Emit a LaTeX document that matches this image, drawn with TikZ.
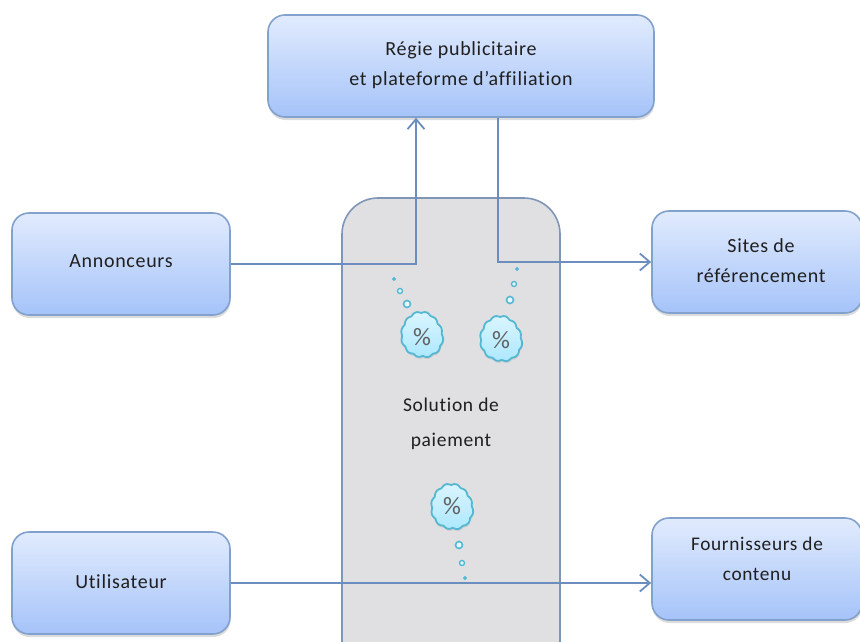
\documentclass[tikz,border=0pt]{standalone}
\usepackage{fontspec}
\setmainfont{Carlito}[Ligatures={NoCommon},LetterSpace=3.5]
\usetikzlibrary{shadows,arrows.meta,calc}
\definecolor{boxline}{HTML}{82A1CC}
\definecolor{boxtop}{HTML}{E1EBFD}
\definecolor{boxbot}{HTML}{A5C3F9}
\definecolor{panelfill}{HTML}{E0E0E3}
\definecolor{panelline}{HTML}{7F95B5}
\definecolor{link}{HTML}{6C8EBF}
\definecolor{txt}{HTML}{1F1F1F}
\definecolor{cloudline}{HTML}{55B8D2}
\definecolor{cloudfill}{HTML}{ADE8FF}
\tikzset{
  bx/.style={draw=boxline,line width=1.6pt,rounded corners=17pt,top color=boxtop,bottom color=boxbot,
    minimum height=102pt,inner sep=0pt,
    drop shadow={shadow xshift=0.5pt,shadow yshift=-3pt,opacity=0.28}},
  lbl/.style={align=center,text=txt,inner sep=0pt,font=\fontsize{20}{30}\selectfont},
  side/.style={bx,minimum width=218pt},
  link/.style={draw=link,line width=1.8pt},
  arr/.style={link,-{Straight Barb[length=10pt,width=17pt,line width=1.8pt]}},
  pct/.style={inner sep=0pt,text=black!62,font=\fontsize{25}{25}\selectfont},
  bub/.style={circle,draw=cloudline,fill=cloudfill!30!white,inner sep=0pt},
  blobshape/.style={draw=cloudline,line width=1.8pt,line join=round,top color=cloudfill!45!white,bottom color=cloudfill,
    drop shadow={shadow xshift=0.5pt,shadow yshift=-2pt,opacity=0.2}}
}
\newcommand{\blob}[2]{%
  \path[blobshape,shift={(#1)}] plot[smooth cycle,samples=90,domain=0:356] (\x:{(#2)*(0.92+0.07*abs(sin(6*\x+15))+0.03*sin(2*\x+30)+0.025*sin(3*\x))} and {1.12*(#2)*(0.92+0.07*abs(sin(6*\x+15))+0.03*sin(2*\x+30)+0.025*sin(3*\x))});}
\begin{document}
\begin{tikzpicture}[x=1pt,y=-1pt]
\useasboundingbox (0,0) rectangle (860,642);
\clip (0,0) rectangle (860,642);
% centre panel
\node[draw=panelline,line width=1.6pt,fill=panelfill,rounded corners=36pt,minimum width=218pt,minimum height=500pt,
  drop shadow={shadow xshift=0.5pt,shadow yshift=-3pt,opacity=0.25}] (pan) at (451,448) {};
\node[lbl,font=\fontsize{19.5}{35}\selectfont] (sol) at (451,424) {Solution de\\paiement};
% boxes
\node[bx,minimum width=386pt] (reg) at (461,66) {};
\node[lbl] (regt) at (461,65) {Régie publicitaire\\et plateforme d’affiliation};
\node[side] (ann) at (121,264) {};
\node[lbl] (annt) at (121,261.5) {Annonceurs};
\node[side] (uti) at (121,583) {};
\node[lbl] (utit) at (121,582) {Utilisateur};
\node[bx,minimum width=210pt] (sit) at (757,262) {};
\node[lbl] (sitt) at (761,261) {Sites de\\référencement};
\node[bx,minimum width=210pt] (fou) at (757,569) {};
\node[lbl,font=\fontsize{19.3}{30}\selectfont] (fout) at (757,559) {Fournisseurs de\\contenu};
% connectors
\draw[arr] (ann.east) -| ([xshift=-45pt]reg.south);
\draw[arr] ([xshift=37pt]reg.south) |- (sit.west);
\draw[arr] (uti.east) -- (uti.east -| fou.west);
% commission clouds
\blob{422,335}{21}
\blob{501,339}{21}
\blob{452,507}{21}
\node[pct] (c1) at (422,337) {\%};
\node[pct] (c2) at (501,340) {\%};
\node[pct] (c3) at (452,506) {\%};
\node[bub,minimum size=7pt,line width=1.6pt] (b11) at (407,304) {};
\node[bub,minimum size=5pt,line width=1.4pt] (b12) at (400,291) {};
\node[bub,minimum size=3pt,line width=.8pt,fill=cloudline] (b13) at (394,279) {};
\node[bub,minimum size=7pt,line width=1.6pt] (b21) at (510,300) {};
\node[bub,minimum size=5pt,line width=1.4pt] (b22) at (514,284) {};
\node[bub,minimum size=3pt,line width=.8pt,fill=cloudline] (b23) at (517,269) {};
\node[bub,minimum size=7pt,line width=1.6pt] (b31) at (459,545) {};
\node[bub,minimum size=5pt,line width=1.4pt] (b32) at (462,563) {};
\node[bub,minimum size=3pt,line width=.8pt,fill=cloudline] (b33) at (465,578) {};
\end{tikzpicture}
\end{document}
